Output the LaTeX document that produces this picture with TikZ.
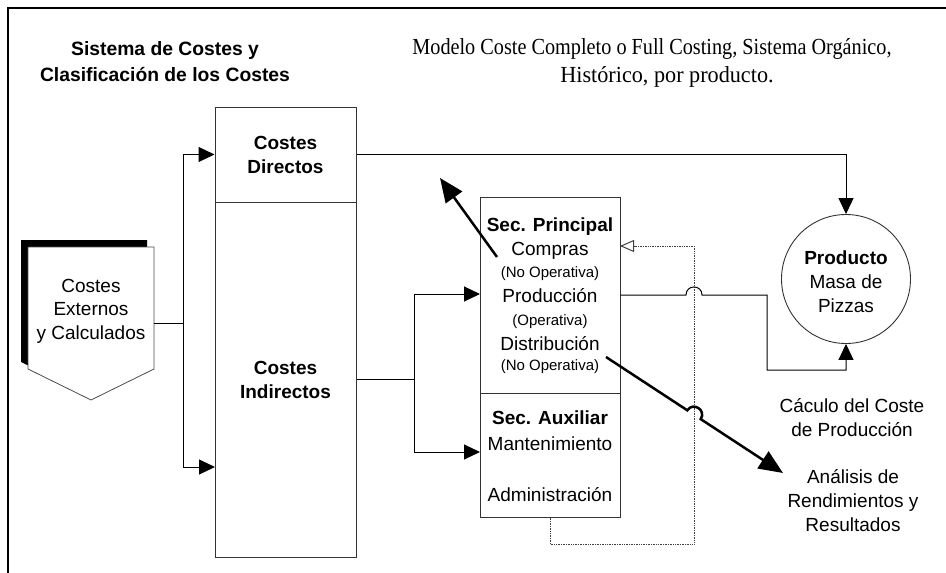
\documentclass[tikz,border=0pt]{standalone}
\usepackage{fontspec}
\setmainfont{Liberation Serif}
\setsansfont{Liberation Sans}
\usetikzlibrary{arrows.meta,calc}
\begin{document}
\begin{tikzpicture}[x=1pt,y=-1pt,
  box/.style={draw=black!80, line width=1pt, inner sep=0pt},
  lbl/.style={font=\sffamily\fontsize{19}{24}\selectfont, align=center, inner sep=0pt},
  bl/.style={font=\sffamily\bfseries\fontsize{19}{24}\selectfont, align=center, inner sep=0pt},
  one/.style={font=\sffamily\fontsize{19}{24}\selectfont, inner sep=0pt, text height=13.6pt, text depth=0pt},
  onebold/.style={font=\sffamily\bfseries\fontsize{19}{24}\selectfont, inner sep=0pt, text height=13.6pt, text depth=0pt},
  onesmall/.style={font=\sffamily\fontsize{15}{18}\selectfont, inner sep=0pt, text height=10.7pt, text depth=0pt},
  serifline/.style={font=\rmfamily\fontsize{23}{28}\selectfont, inner sep=0pt, text height=15pt, text depth=0pt},
  conn/.style={line width=1pt, -{Triangle[length=16pt,width=15pt]}},
  plain/.style={line width=1pt},
  bigarrow/.style={line width=2.5pt, -{Triangle[length=24pt,width=20pt]}},
  ret/.style={draw=black!75, line width=1pt, dash pattern=on 1pt off 0.7pt},
]
\useasboundingbox (0,0) rectangle (946,573);

% frame (only top and left edges visible)
\draw[line width=1.6pt] (8,573) -- (8,8) -- (946,8);

% titles
\node[bl, font=\sffamily\bfseries\fontsize{19.3}{26}\selectfont] (t1) at (165,62) {Sistema de Costes y\\Clasificación de los Costes};
\node[serifline] (t2a) at (652,47) {\scalebox{0.88}[1]{Modelo Coste Completo o Full Costing, Sistema Orgánico,}};
\node[serifline] (t2b) at (667,75) {\scalebox{0.965}[1]{Histórico, por producto.}};

% Costes externos (offpage connector with shadow)
\fill (21,240) -- (147,240) -- (147,362) -- (84,393) -- (21,362) -- cycle;
\draw[fill=white, draw=black!70, line width=0.8pt] (28,247) -- (154,247) -- (154,369) -- (91,400) -- (28,369) -- cycle;
\node[lbl, font=\sffamily\fontsize{19}{23.5}\selectfont] (ext) at (91,311) {Costes\\Externos\\y Calculados};

% cost boxes
\node[box, bl, minimum width=141pt, minimum height=95pt] (cd) at (285.5,154.5) {Costes\\Directos};
\node[box, bl, minimum width=141pt, minimum height=355pt] (ci) at (285.5,379.5) {Costes\\Indirectos};

% sections
\node[box, minimum width=140pt, minimum height=196pt] (sp) at (550,295) {};
\node[box, minimum width=140pt, minimum height=124pt] (sa) at (550,455) {};

\node[onebold] (sp1) at (550,225) {Sec. Principal};
\node[one] (sp2) at (550,249) {Compras};
\node[onesmall] (sp3) at (550,272) {(No Operativa)};
\node[one] (sp4) at (550,296) {Producción};
\node[onesmall] (sp5) at (550,320) {(Operativa)};
\node[one] (sp6) at (550,344) {Distribución};
\node[onesmall] (sp7) at (550,365) {(No Operativa)};

\node[onebold] (sa1) at (550,418) {Sec. Auxiliar};
\node[one] (sa2) at (550,444) {Mantenimiento};
\node[one] (sa3) at (550,495) {Administración};

% product
\node[draw=black!80, line width=0.9pt, circle, minimum size=129pt, inner sep=0pt] (prod) at (846,279) {};
\node[lbl] (prodt) at (846,282) {\textbf{Producto}\\Masa de\\Pizzas};

% right labels
\node[lbl] (calc) at (852,418) {Cáculo del Coste\\de Producción};
\node[lbl] (anal) at (853,501) {Análisis de\\Rendimientos y\\Resultados};

% coordinates
\coordinate (extR) at (154,323);
\coordinate (j1) at (183,323);
\coordinate (ciIn) at (215,467);
\coordinate (j2) at (414,379.5);
\coordinate (spIn) at (480,294);
\coordinate (saIn) at (480,452);
\coordinate (retIn) at (620,246);
\coordinate (cmpOut) at (497,257);
\coordinate (upTip) at (440,178);
\coordinate (disOut) at (606,357);
\coordinate (dnTip) at (783,473);

% connectors
\draw[plain] (extR) -- (j1);
\draw[conn] (j1) |- (cd.west);
\draw[conn] (j1) |- (ciIn);
\draw[plain] (ci.east) -- (j2);
\draw[conn] (j2) |- (spIn);
\draw[conn] (j2) |- (saIn);

\draw[conn] (cd.east) -| (prod.north);

\draw[ret, -{Triangle[open,length=14pt,width=12pt,fill=white,line width=1pt]}]
  (sa.south) -- (550,544) -- (694,544) -- (694,246) -- (retIn);

\draw[conn] (sp.east) -- (686,295) .. controls (686,284.3) and (702,284.3) .. (702,295)
  -- (767,295) -- (767,370) -| (prod.south);

\draw[bigarrow] (cmpOut) -- (upTip);
\draw[bigarrow] (disOut) -- (687.3,410.3) .. controls (693.2,401.4) and (706.6,410.2) .. (700.7,419.1) -- (dnTip);

\end{tikzpicture}
\end{document}
